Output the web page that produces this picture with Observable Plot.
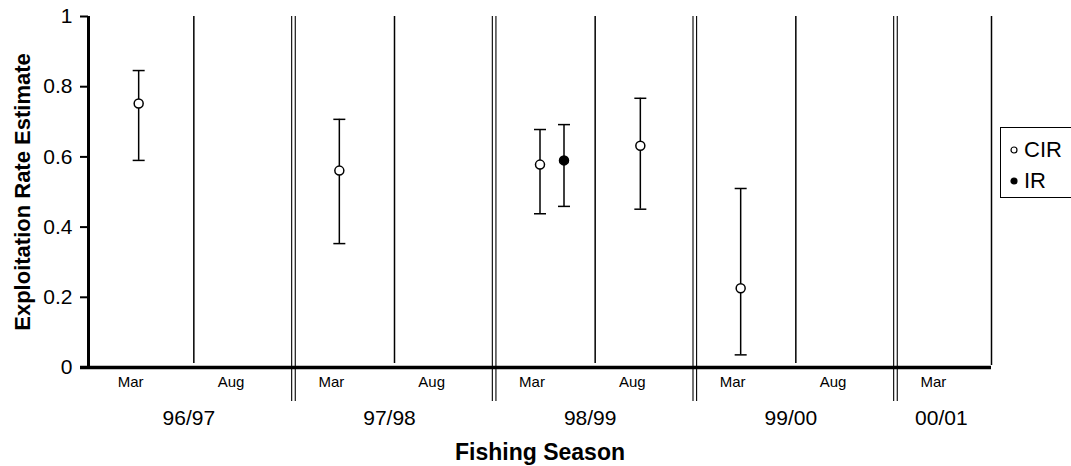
<!DOCTYPE html>
<html>
<head>
<meta charset="utf-8">
<script src="https://cdn.jsdelivr.net/npm/d3@7"></script>
<script src="https://cdn.jsdelivr.net/npm/@observablehq/plot@0.6"></script>
<style>
  html, body { margin: 0; padding: 0; background: #fff; overflow: hidden; }
  #wrap { position: relative; width: 1071px; height: 466px; }
  #legend {
    position: absolute; left: 1000px; top: 127px; width: 90px; height: 71px;
    border: 1px solid #000; box-sizing: border-box; background: #fff;
    font-family: "Liberation Sans", Arial, sans-serif; font-size: 22px; color: #000;
  }
  .item { position: absolute; left: 8px; display: flex; align-items: center; height: 24px; }
  .item svg { margin-right: 5px; }
</style>
</head>
<body>
<div id="wrap"></div>
<script>
// Periods along the x axis (one band each)
const periodMonths  = ["Mar", "Aug", "Mar", "Aug", "Mar", "Aug", "Mar", "Aug", "Mar"];
const periodSeasons = ["96/97", "96/97", "97/98", "97/98", "98/99", "98/99", "99/00", "99/00", "00/01"];
const seasons = ["96/97", "97/98", "98/99", "99/00", "00/01"];

// Estimates
const estSeason = ["96/97", "97/98", "98/99", "98/99", "98/99", "99/00"];
const estMonth  = ["Mar", "Mar", "Mar", "Mar", "Aug", "Mar"];
const estMethod = ["CIR", "CIR", "CIR", "IR", "CIR", "CIR"];
const estValue  = [0.752, 0.561, 0.578, 0.590, 0.632, 0.226];
const estLower  = [0.590, 0.353, 0.438, 0.459, 0.451, 0.036];
const estUpper  = [0.846, 0.707, 0.678, 0.692, 0.767, 0.510];

const yTicks = [0, 0.2, 0.4, 0.6, 0.8, 1];

// Build tables
const periods = periodMonths.map((m, i) => ({i, month: m, season: periodSeasons[i]}));
const idx = (s, m) => periods.find(p => p.season === s && p.month === m).i;
const est = estValue.map((v, k) => ({
  pos: idx(estSeason[k], estMonth[k]) + 0.5,
  method: estMethod[k], value: v, lower: estLower[k], upper: estUpper[k]
}));
const cir = est.filter(d => d.method === "CIR");
const ir  = est.filter(d => d.method === "IR");

const innerBounds = periods.filter((p, i) => i > 0 && p.season === periods[i - 1].season).map(p => p.i);
const seasonBounds = periods.filter((p, i) => i > 0 && p.season !== periods[i - 1].season).map(p => p.i);
const seasonCenters = seasons.map(s => {
  const ps = periods.filter(p => p.season === s);
  return {season: s, pos: (ps[0].i + ps[ps.length - 1].i + 1) / 2};
});

// Cap symbol: horizontal line of half-width r
const capSymbol = { draw(ctx, size) { const w = Math.sqrt(size / Math.PI); ctx.moveTo(-w, 0); ctx.lineTo(w, 0); } };

const errMarks = (data, dx) => [
  Plot.ruleX(data, {x: "pos", y1: "lower", y2: "upper", dx, stroke: "#000", strokeWidth: 1.5}),
  Plot.dot(data, {x: "pos", y: "upper", dx, symbol: capSymbol, r: 6, stroke: "#000", strokeWidth: 1.5}),
  Plot.dot(data, {x: "pos", y: "lower", dx, symbol: capSymbol, r: 6, stroke: "#000", strokeWidth: 1.5})
];

const chart = Plot.plot({
  width: 1071,
  height: 466,
  marginLeft: 88,
  marginRight: 80,
  marginTop: 16,
  marginBottom: 99,
  style: {fontFamily: "'Liberation Sans', Arial, sans-serif", fontSize: "21px", color: "#000", background: "#fff"},
  x: {type: "linear", domain: [0, periods.length], axis: null},
  y: {domain: [0, 1], axis: null},
  marks: [
    // single separators between Mar and Aug
    Plot.ruleX(innerBounds, {x: d => d, y1: 1, y2: 0, insetBottom: 4, dx: 5, stroke: "#000", strokeWidth: 1.5}),
    // double separators between seasons
    Plot.ruleX(seasonBounds, {x: d => d, y1: 1, y2: 0, insetBottom: -34, dx: 2.5, stroke: "#000", strokeWidth: 1.1}),
    Plot.ruleX(seasonBounds, {x: d => d, y1: 1, y2: 0, insetBottom: -34, dx: 6.1, stroke: "#000", strokeWidth: 1.1}),
    // right edge
    Plot.ruleX([periods.length], {x: d => d, y1: 1, y2: 0, insetBottom: 2, stroke: "#000", strokeWidth: 1.5}),
    // axes lines
    Plot.ruleX([0], {x: d => d, y1: 1, y2: 0, stroke: "#000", strokeWidth: 3}),
    Plot.ruleY([0], {y: d => d, x1: 0, x2: periods.length, insetLeft: -8, stroke: "#000", strokeWidth: 3.5}),
    Plot.axisY({ticks: yTicks, tickSize: 8, tickPadding: 8, strokeWidth: 2, label: null,
      tickFormat: d => (d === 0 || d === 1) ? String(d) : d.toFixed(1)}),
    // error bars + points
    ...errMarks(cir, 0),
    ...errMarks(ir, 24),
    Plot.dot(cir, {x: "pos", y: "value", r: 4.5, fill: "#fff", stroke: "#000", strokeWidth: 1.5}),
    Plot.dot(ir, {x: "pos", y: "value", dx: 24, r: 4.5, fill: "#000", stroke: "#000", strokeWidth: 1.5}),
    // period labels
    Plot.text(periods, {x: d => d.i + 0.5, y: 0, text: "month", dy: 15, dx: -8, fontSize: 15, fill: "#000"}),
    // season labels
    Plot.text(seasonCenters, {x: "pos", y: 0, text: "season", dy: 51, fontSize: 21, fill: "#000"}),
    // axis titles
    Plot.text(["Fishing Season"], {frameAnchor: "bottom", lineAnchor: "middle", dy: 85, fontWeight: "bold", fontSize: 23, fill: "#000"}),
    Plot.text(["Exploitation Rate Estimate"], {frameAnchor: "left", textAnchor: "middle", rotate: -90, dx: -66, fontWeight: "bold", fontSize: 22, fill: "#000"})
  ]
});

const wrap = document.getElementById("wrap");
wrap.appendChild(chart);

// Legend
const legendItems = [{label: "CIR", fill: "#fff"}, {label: "IR", fill: "#000"}];
const legend = document.createElement("div");
legend.id = "legend";
legendItems.forEach((it, k) => {
  const row = document.createElement("div");
  row.className = "item";
  row.style.top = (10 + k * 31) + "px";
  row.innerHTML = `<svg width="10" height="10"><circle cx="5" cy="5" r="3" fill="${it.fill}" stroke="#000" stroke-width="1.2"/></svg><span>${it.label}</span>`;
  legend.appendChild(row);
});
wrap.appendChild(legend);
</script>
</body>
</html>
